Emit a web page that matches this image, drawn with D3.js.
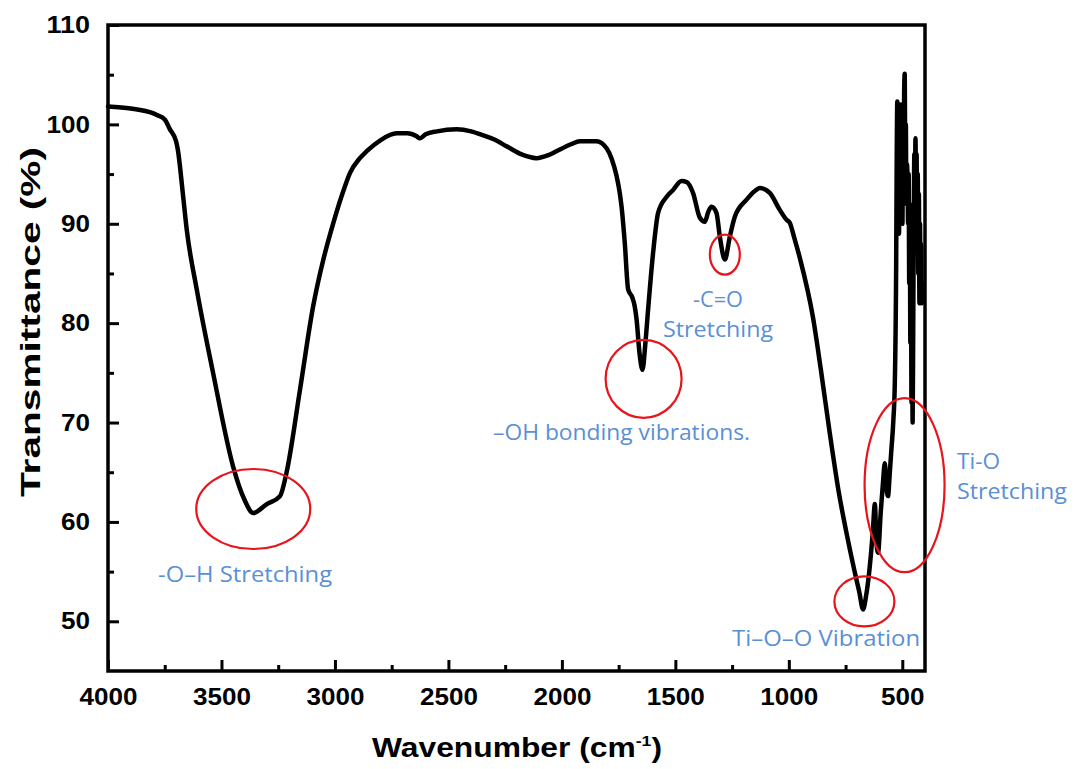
<!DOCTYPE html>
<html>
<head>
<meta charset="utf-8">
<script src="https://cdn.jsdelivr.net/npm/d3@7"></script>
<style>
  body { margin: 0; background: #fff; }
  svg { display: block; }
</style>
</head>
<body>
<svg id="svg" width="1074" height="769"></svg>
<script>
// FTIR spectrum
const wavenumber = [
  4000, 3900, 3800, 3785, 3750, 3727, 3700, 3692, 3670, 3653, 3609, 3537, 3449, 3400, 3360,
  3300, 3242, 3213, 3154, 3096, 3050, 3007, 2960, 2934, 2890, 2860, 2800, 2728, 2680, 2640,
  2626, 2600, 2550, 2464, 2400, 2347, 2300, 2244, 2180, 2112, 2060, 2024, 1960, 1921, 1847,
  1803, 1780, 1759, 1745, 1737, 1723, 1708, 1690, 1680, 1671, 1658, 1645, 1632, 1620, 1598,
  1576, 1539, 1510, 1473, 1450, 1422, 1392, 1370, 1355, 1341, 1319, 1304, 1282, 1260, 1238,
  1187, 1150, 1128, 1084, 1040, 1010, 996, 975, 952, 893, 860, 820, 780, 746, 710,
  690, 673, 660, 643, 630, 621, 614, 607, 595, 585, 577, 570, 563, 555, 548,
  540, 533, 527, 524.5, 522, 519.5, 517, 514.5, 512, 509.5, 507, 504.5, 502, 499.5, 497,
  494.5, 492, 489.5, 487, 484.5, 482, 479.5, 477, 474.5, 472, 469.5, 467, 464.5, 462, 459.5,
  457, 454.5, 452, 449.5, 447, 444.5, 442, 439.5, 437, 434.5, 432, 429.5, 427, 424.5, 422,
  419.5, 417, 414.5, 412
];
const transmittance = [
  101.8, 101.6, 101.1, 100.95, 100.5, 99.5, 98.3, 97.4, 93.0, 89.4, 83.4, 75.0, 65.6, 62.3, 60.9,
  61.8, 62.6, 65.0, 73.3, 81.7, 86.5, 90.1, 93.5, 95.1, 96.6, 97.3, 98.4, 99.1, 99.1, 98.8,
  98.6, 99.0, 99.3, 99.5, 99.3, 98.9, 98.5, 97.8, 97.0, 96.6, 96.9, 97.3, 98.0, 98.3, 98.3,
  97.6, 96.5, 94.8, 93.1, 91.7, 88.1, 83.4, 82.6, 81.8, 80.4, 77.0, 75.3, 78.0, 81.4, 87.1,
  91.1, 92.7, 93.4, 94.3, 94.2, 93.1, 90.6, 90.2, 91.2, 91.7, 91.1, 88.7, 86.4, 88.7, 90.7,
  92.4, 93.3, 93.6, 93.1, 91.4, 90.4, 90.1, 88.5, 86.6, 80.5, 75.5, 69.0, 63.0, 58.9, 55.0,
  53.0, 51.2, 52.5, 55.6, 59.0, 61.8, 58.0, 56.9, 61.0, 64.0, 65.9, 63.5, 62.6, 65.0, 67.3,
  70.0, 74.0, 86.0, 97.0, 102.3, 93.0, 101.5, 89.0, 100.0, 91.0, 102.0, 95.0, 99.0, 90.0, 98.0,
  93.0, 103.0, 105.1, 97.0, 100.0, 92.0, 96.0, 94.4, 90.0, 95.0, 84.0, 92.0, 78.0, 88.0, 72.0,
  80.0, 70.0, 79.0, 90.0, 97.0, 92.0, 98.6, 94.0, 97.0, 88.0, 95.0, 85.0, 93.0, 82.0, 90.0,
  83.0, 88.0, 82.0, 84.0
];
const data = wavenumber.map((w, i) => ({ w: w, t: transmittance[i] }));

const xMajor = [4000, 3500, 3000, 2500, 2000, 1500, 1000, 500];
const xMinor = [3750, 3250, 2750, 2250, 1750, 1250, 750];
const yMajor = [50, 60, 70, 80, 90, 100, 110];
const yMinor = [55, 65, 75, 85, 95, 105];

// annotations: label lines, anchor (wavenumber, transmittance)
const notes = [
  { lines: ["-O\u2013H Stretching"], w: 3396, t: 54.66, len: [174], anchor: "middle" },
  { lines: ["\u2013OH bonding vibrations."], w: 1737, t: 68.95, len: [257], anchor: "middle" },
  { lines: ["-C=O", "Stretching"], w: 1312, t: 82.33, len: [50, 110], anchor: "middle" },
  { lines: ["Ti\u2013O\u2013O Vibration"], w: 836, t: 48.32, len: [188], anchor: "middle" },
  { lines: ["Ti-O", "Stretching"], w: 259, t: 66.03, len: [43, 110], anchor: "start" }
];
// red rings: centre (wavenumber, transmittance), radii in px
const rings = [
  { w: 3360, t: 61.3, rx: 57, ry: 40 },
  { w: 1640, t: 74.4, rx: 38, ry: 39 },
  { w: 1282, t: 86.9, rx: 15, ry: 20 },
  { w: 667, t: 52.0, rx: 30, ry: 25 },
  { w: 490, t: 63.7, rx: 40, ry: 87 }
];

const margin = { left: 108, top: 25, right: 149, bottom: 98 };
const width = 1074 - margin.left - margin.right;
const height = 769 - margin.top - margin.bottom;

const svg = d3.select("#svg");
const g = svg.append("g").attr("transform", `translate(${margin.left},${margin.top})`);

const x = d3.scaleLinear().domain([4000, 400]).range([0, width]);
const y = d3.scaleLinear().domain([45, 110]).range([height, 0]);

const tickFont = "'Liberation Sans', Arial, sans-serif";

// x axis
g.append("g")
  .attr("transform", `translate(0,${height})`)
  .call(d3.axisBottom(x).tickValues(xMajor).tickSizeInner(-11).tickSizeOuter(0).tickPadding(17).tickFormat(d3.format("d")));
g.append("g")
  .attr("transform", `translate(0,${height})`)
  .call(d3.axisBottom(x).tickValues(xMinor).tickSizeInner(-6).tickSizeOuter(0).tickFormat(""));

// y axis
g.append("g")
  .call(d3.axisLeft(y).tickValues(yMajor).tickSizeInner(-11).tickSizeOuter(0).tickPadding(18).tickFormat(d3.format("d")));
g.append("g")
  .call(d3.axisLeft(y).tickValues(yMinor).tickSizeInner(-6).tickSizeOuter(0).tickFormat(""));

g.selectAll(".domain").remove();
g.selectAll(".tick line").attr("stroke", "#000").attr("stroke-width", 3);
g.selectAll(".tick text")
  .attr("fill", "#000")
  .attr("textLength", d => String(d).length * 14.5)
  .attr("lengthAdjust", "spacingAndGlyphs")
  .style("font-family", tickFont)
  .style("font-weight", "bold")
  .style("font-size", "24px");

// frame
g.append("rect")
  .attr("width", width)
  .attr("height", height)
  .attr("fill", "none")
  .attr("stroke", "#000")
  .attr("stroke-width", 3.5);

// spectrum
const line = d3.line()
  .x(d => x(d.w))
  .y(d => y(d.t))
  .curve(d3.curveMonotoneX);

g.append("path")
  .datum(data)
  .attr("d", line)
  .attr("fill", "none")
  .attr("stroke", "#000")
  .attr("stroke-width", 4.5)
  .attr("stroke-linejoin", "round")
  .attr("stroke-linecap", "round");

// rings
g.selectAll("ellipse")
  .data(rings)
  .enter()
  .append("ellipse")
  .attr("cx", d => x(d.w))
  .attr("cy", d => y(d.t))
  .attr("rx", d => d.rx)
  .attr("ry", d => d.ry)
  .attr("fill", "none")
  .attr("stroke", "#e8141c")
  .attr("stroke-width", 2.2);

// annotation text
notes.forEach(n => {
  n.lines.forEach((s, i) => {
    g.append("text")
      .attr("x", x(n.w))
      .attr("y", y(n.t) + i * 30 + 7.5)
      .attr("text-anchor", n.anchor)
      .attr("textLength", n.len[i])
      .attr("lengthAdjust", "spacingAndGlyphs")
      .attr("fill", "#5a8fd6")
      .style("font-family", "'Open Sans', 'Noto Sans', sans-serif")
      .style("font-size", "22px")
      .text(s);
  });
});

// axis titles
const xTitle = svg.append("text")
  .attr("x", 517)
  .attr("y", 757)
  .attr("text-anchor", "middle")
  .attr("textLength", 290)
  .attr("lengthAdjust", "spacingAndGlyphs")
  .style("font-family", tickFont)
  .style("font-weight", "bold")
  .style("font-size", "27px");
xTitle.append("tspan").text("Wavenumber (cm");
xTitle.append("tspan").attr("dy", -11).style("font-size", "15px").text("-1");
xTitle.append("tspan").attr("dy", 11).text(")");

svg.append("text")
  .attr("transform", "translate(40,322) rotate(-90)")
  .attr("text-anchor", "middle")
  .attr("textLength", 350)
  .attr("lengthAdjust", "spacingAndGlyphs")
  .style("font-family", tickFont)
  .style("font-weight", "bold")
  .style("font-size", "27px")
  .text("Transmittance (%)");
</script>
</body>
</html>
